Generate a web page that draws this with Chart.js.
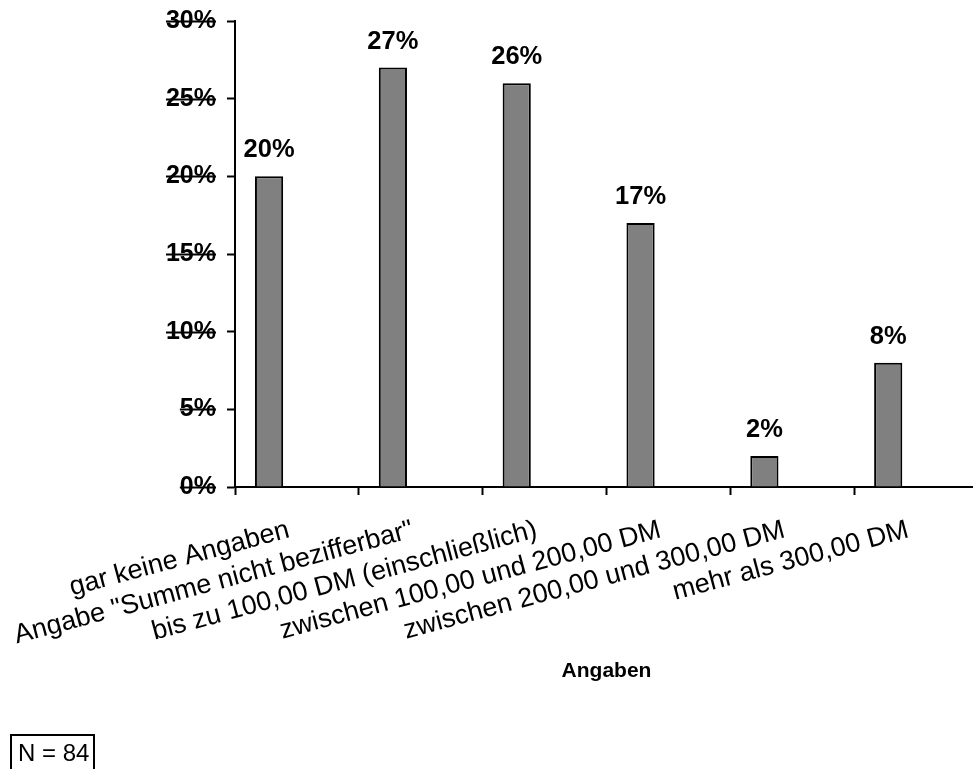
<!DOCTYPE html>
<html>
<head>
<meta charset="utf-8">
<script src="https://cdn.jsdelivr.net/npm/chart.js@4"></script>
<style>
  html, body { margin: 0; padding: 0; background: #fff; overflow: hidden; }
  #wrap { position: relative; width: 973px; height: 769px; overflow: hidden; }
  #nBox {
    position: absolute; left: 10px; top: 734px; width: 85px; height: 40px;
    border: 2px solid #000; box-sizing: border-box; padding-left: 6px;
    font: 24px "Liberation Sans", Arial, sans-serif; line-height: 34px; color: #000;
  }
</style>
</head>
<body>
<div id="wrap">
  <!-- canvas runs a few px past the right edge so the last category is cut off like the axis -->
  <canvas id="chart" width="978" height="769"></canvas>
  <div id="nBox">N = 84</div>
</div>
<script>
const categories = [
  "gar keine Angaben",
  'Angabe "Summe nicht bezifferbar"',
  "bis zu 100,00 DM (einschließlich)",
  "zwischen 100,00 und 200,00 DM",
  "zwischen 200,00 und 300,00 DM",
  "mehr als 300,00 DM",
];
const shares = [20, 27, 26, 17, 2, 8];
const spacer = [null, null, null, null, null, null]; // empty second slot, keeps bars left of centre
const yMin = 0;
const yMax = 30;
const yStep = 5;

const FONT = '"Liberation Sans", Arial, sans-serif';
const Y_FONT_SIZE = 25;

// percentage above each bar
const valueLabels = {
  id: "valueLabels",
  afterDatasetsDraw(chart) {
    const ctx = chart.ctx;
    const meta = chart.getDatasetMeta(0);
    ctx.save();
    ctx.font = `bold 25.5px ${FONT}`;
    ctx.fillStyle = "#000";
    ctx.textAlign = "center";
    ctx.textBaseline = "alphabetic";
    meta.data.forEach((bar, i) => {
      ctx.fillText(shares[i] + "%", bar.x, bar.y - 19);
    });
    ctx.restore();
  },
};

// old-style dash running through the y labels at each tick
const tickStrike = {
  id: "tickStrike",
  afterDraw(chart) {
    const y = chart.scales.y;
    const ctx = chart.ctx;
    const right = y.right - 8 - 11;
    ctx.save();
    ctx.font = `bold ${Y_FONT_SIZE}px ${FONT}`;
    ctx.strokeStyle = "#000";
    ctx.lineWidth = 2;
    y.ticks.forEach((t, i) => {
      const w = ctx.measureText(t.value + "%").width;
      const py = Math.round(y.getPixelForTick(i)) + 0.5;
      ctx.beginPath();
      ctx.moveTo(right - w, py);
      ctx.lineTo(right, py);
      ctx.stroke();
    });
    ctx.restore();
  },
};

new Chart(document.getElementById("chart"), {
  type: "bar",
  data: {
    labels: categories,
    datasets: [
      {
        label: "Anteil",
        data: shares,
        backgroundColor: "#808080",
        borderColor: "#000",
        borderWidth: 2,
        categoryPercentage: 0.9,
        barPercentage: 0.506,
      },
      {
        label: "",
        data: spacer,
        categoryPercentage: 0.9,
        barPercentage: 0.506,
      },
    ],
  },
  options: {
    responsive: false,
    animation: false,
    layout: { padding: { top: 21, right: 0, left: 0, bottom: 0 } },
    plugins: {
      legend: { display: false },
      tooltip: { enabled: false },
    },
    scales: {
      x: {
        grid: {
          display: true,
          drawOnChartArea: false,
          drawTicks: true,
          tickLength: 8,
          tickWidth: 2,
          tickColor: "#000",
        },
        border: { display: true, color: "#000", width: 2 },
        ticks: {
          autoSkip: false,
          minRotation: 15,
          maxRotation: 15,
          padding: 19,
          labelOffset: -8,
          color: "#000",
          font: { family: FONT, size: 27 },
        },
        title: {
          display: true,
          text: "Angaben",
          color: "#000",
          font: { family: FONT, size: 21, weight: "bold" },
          padding: { top: 0, bottom: 85 },
        },
        afterFit(scale) {
          scale.height = 282;
          scale.paddingRight = 0;
        },
      },
      y: {
        min: yMin,
        max: yMax,
        grid: {
          display: true,
          drawOnChartArea: false,
          drawTicks: true,
          tickLength: 8,
          tickWidth: 2,
          tickColor: "#000",
        },
        border: { display: true, color: "#000", width: 2 },
        ticks: {
          stepSize: yStep,
          padding: 11,
          color: "#000",
          font: { family: FONT, size: Y_FONT_SIZE, weight: "bold" },
          callback: (v) => v + "%",
        },
        afterFit(scale) {
          scale.width = 235;
          scale.paddingTop = 0;
          scale.paddingBottom = 0;
        },
      },
    },
  },
  plugins: [valueLabels, tickStrike],
});
</script>
</body>
</html>
